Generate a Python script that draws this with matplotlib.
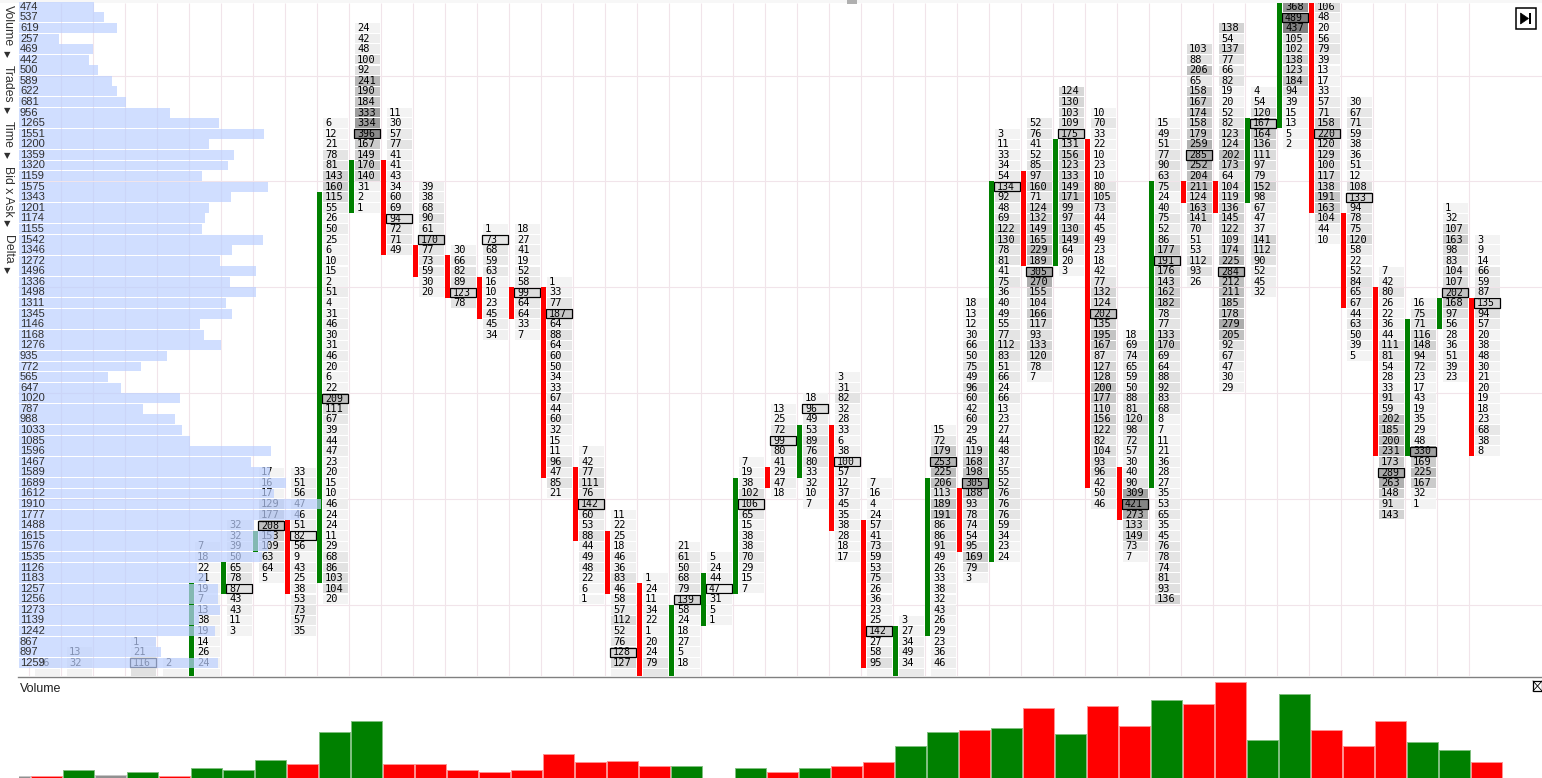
# %%
# Footprint chart with a volume profile on the left and a volume pane below
import matplotlib
matplotlib.use("Agg")
import matplotlib.pyplot as plt
from matplotlib.patches import Polygon, Rectangle

# %%
# Volume profile, one number per price level from the top down
profile = [474, 537, 619, 257, 469, 442, 500, 589, 622, 681, 956, 1265, 1551,
           1200, 1359, 1320, 1159, 1575, 1343, 1201, 1174, 1155, 1542, 1346,
           1272, 1496, 1336, 1498, 1311, 1345, 1146, 1168, 1276, 935, 772, 565,
           647, 1020, 787, 988, 1033, 1085, 1596, 1467, 1589, 1689, 1612, 1910,
           1777, 1488, 1615, 1576, 1535, 1126, 1183, 1257, 1256, 1273, 1139,
           1242, 867, 897, 1259]

# Footprint columns: bar number, first price level, values, level of the
# boxed high volume cell and the first/last level of the candle body
col_bar = [0, 1, 3, 4, 5, 6, 7, 8, 9, 10, 11, 12, 13, 14, 15, 16, 17, 18, 19,
           20, 21, 22, 23, 24, 25, 26, 27, 28, 29, 30, 31, 32, 33, 34, 35, 36,
           37, 38, 39, 40, 41, 42, 43, 44, 45]
col_first = [62, 61, 60, 62, 51, 49, 44, 44, 11, 2, 10, 17, 23, 21, 21, 26, 42,
             48, 54, 51, 52, 43, 38, 37, 35, 45, 58, 40, 28, 12, 11, 8, 10, 31,
             11, 4, 2, 8, 0, 0, 9, 25, 28, 19, 22]
col_poc = [None, None, 62, None, None, 55, 49, 50, 37, 12, 20, 22, 27, 22, 27,
           29, 47, 61, None, 56, 55, 47, 41, 38, 43, 59, None, 43, 45, 17, 25,
           12, 29, 47, 24, 14, 25, 11, 1, 12, 18, 44, 42, 27, 28]
col_body = [None, None, None, None, (55, 63), (53, 55), (50, 51), (49, 55),
            (18, 54), (15, 19), (15, 23), (23, 25), (24, 27), (26, 29), (27, 29),
            (27, 44), (44, 50), (50, 55), (55, 63), (57, 63), (54, 58), (45, 55),
            (44, 45), (40, 44), (40, 49), (49, 62), (59, 63), (45, 59), (46, 51),
            (17, 52), (16, 24), (13, 24), (13, 45), (44, 48), (17, 45), (17, 18),
            (17, 19), (11, 18), (0, 11), (0, 19), (20, 28), (27, 42), (30, 42),
            (28, 30), (28, 42)]
col_values = [
    [26],
    [13, 32],
    [1, 21, 116],
    [2],
    [7, 18, 22, 21, 19, 7, 13, 38, 19, 14, 26, 24],
    [32, 32, 39, 50, 65, 78, 87, 43, 43, 11, 3],
    [17, 16, 17, 129, 177, 208, 153, 109, 63, 64, 5],
    [33, 51, 56, 47, 46, 51, 82, 56, 9, 43, 25, 38, 53, 73, 57, 35],
    [6, 12, 21, 78, 81, 143, 160, 115, 55, 26, 50, 25, 6, 10, 15, 2, 51, 4, 31,
     46, 30, 31, 46, 20, 6, 22, 209, 111, 67, 39, 44, 47, 23, 20, 15, 10, 46,
     24, 24, 11, 29, 68, 86, 103, 104, 20],
    [24, 42, 48, 100, 92, 241, 190, 184, 333, 334, 396, 167, 149, 170, 140, 31,
     2, 1],
    [11, 30, 57, 77, 41, 41, 43, 34, 60, 69, 94, 72, 71, 49],
    [39, 38, 68, 90, 61, 170, 77, 73, 59, 30, 20],
    [30, 66, 82, 89, 123, 78],
    [1, 73, 68, 59, 63, 16, 10, 23, 45, 45, 34],
    [18, 27, 41, 19, 52, 58, 99, 64, 64, 33, 7],
    [1, 33, 77, 187, 64, 88, 64, 60, 50, 34, 33, 67, 44, 60, 32, 15, 11, 96, 47,
     85, 21],
    [7, 42, 77, 111, 76, 142, 60, 53, 88, 44, 49, 48, 22, 6, 1],
    [11, 22, 25, 18, 46, 36, 83, 46, 58, 57, 112, 52, 76, 128, 127],
    [1, 24, 11, 34, 22, 1, 20, 24, 79],
    [21, 61, 50, 68, 79, 139, 58, 24, 18, 27, 5, 18],
    [5, 24, 44, 47, 31, 5, 1],
    [7, 19, 38, 102, 106, 65, 15, 38, 38, 70, 29, 15, 7],
    [13, 25, 72, 99, 80, 41, 29, 47, 18],
    [18, 96, 49, 53, 89, 76, 80, 33, 32, 10, 7],
    [3, 31, 82, 32, 28, 33, 6, 38, 100, 57, 12, 37, 45, 35, 38, 28, 18, 17],
    [7, 16, 4, 24, 57, 41, 73, 59, 53, 75, 26, 36, 23, 25, 142, 27, 58, 95],
    [3, 27, 34, 49, 34],
    [15, 72, 179, 253, 225, 206, 113, 189, 191, 86, 86, 91, 49, 26, 33, 38, 32,
     43, 26, 29, 23, 36, 46],
    [18, 13, 12, 30, 66, 50, 75, 49, 96, 60, 42, 60, 29, 45, 119, 168, 198, 305,
     188, 93, 78, 74, 54, 95, 169, 79, 3],
    [3, 11, 33, 34, 54, 134, 92, 48, 69, 122, 130, 78, 81, 41, 75, 36, 40, 49,
     55, 77, 112, 83, 51, 66, 24, 66, 13, 23, 27, 44, 48, 37, 55, 52, 76, 76,
     76, 59, 34, 23, 24],
    [52, 76, 41, 52, 85, 97, 160, 71, 124, 132, 149, 165, 229, 189, 305, 270,
     155, 104, 166, 117, 93, 133, 120, 78, 7],
    [124, 130, 103, 109, 175, 131, 156, 123, 133, 149, 171, 99, 97, 130, 149,
     64, 20, 3],
    [10, 70, 33, 22, 10, 23, 10, 80, 105, 73, 44, 45, 49, 23, 18, 42, 77, 132,
     124, 202, 135, 195, 167, 87, 127, 128, 200, 177, 110, 156, 122, 82, 104,
     93, 96, 42, 50, 46],
    [18, 69, 74, 65, 59, 50, 88, 81, 120, 98, 72, 57, 30, 40, 90, 309, 421, 273,
     133, 149, 73, 7],
    [15, 49, 51, 77, 90, 63, 75, 24, 40, 75, 52, 86, 177, 191, 176, 143, 162,
     182, 78, 77, 133, 170, 69, 64, 88, 92, 83, 68, 8, 7, 11, 21, 36, 28, 27,
     35, 53, 65, 35, 45, 76, 78, 74, 81, 93, 136],
    [103, 88, 206, 65, 158, 167, 174, 158, 179, 259, 285, 252, 204, 211, 124,
     163, 141, 70, 51, 53, 112, 93, 26],
    [138, 54, 137, 77, 66, 82, 19, 20, 52, 82, 123, 124, 202, 173, 64, 104, 119,
     136, 145, 122, 109, 174, 225, 284, 212, 211, 185, 178, 279, 205, 92, 67,
     47, 30, 29],
    [4, 54, 120, 167, 164, 136, 111, 97, 79, 152, 98, 67, 47, 37, 141, 112, 90,
     52, 45, 32],
    [368, 489, 437, 105, 102, 138, 123, 184, 94, 39, 15, 13, 5, 2],
    [106, 48, 20, 56, 79, 39, 13, 17, 33, 57, 71, 158, 220, 120, 129, 100, 117,
     138, 191, 163, 104, 44, 10],
    [30, 67, 71, 59, 38, 36, 51, 12, 108, 133, 94, 78, 75, 120, 58, 22, 52, 84,
     65, 67, 44, 63, 50, 39, 5],
    [7, 42, 80, 26, 22, 36, 44, 111, 81, 54, 28, 33, 91, 59, 202, 185, 200, 231,
     173, 289, 263, 148, 91, 143],
    [16, 75, 71, 116, 148, 94, 72, 23, 17, 43, 19, 35, 29, 48, 330, 169, 225,
     167, 32, 1],
    [1, 32, 107, 163, 98, 83, 104, 107, 202, 168, 97, 56, 28, 36, 51, 39, 23],
    [3, 9, 14, 66, 59, 87, 135, 94, 57, 20, 38, 48, 30, 21, 20, 19, 18, 23, 68,
     38, 8],
]

# Cells cut off by the bottom edge, only their shade can be seen
cut_bars = [0, 1, 3, 4, 5, 18, 19, 20, 26, 27, 28]
cut_values = [30, 30, 90, 30, 30, 20, 70, 20, 20, 60, 20]

# Volume pane, bar number -1 is only partly on screen
vol_bars = list(range(-1, 46))
vol_values = [62, 93, 326, 108, 279, 93, 465, 326, 837, 651, 2139, 2650, 651,
              605, 326, 279, 326, 1070, 698, 790, 558, 512, 0, 419, 279, 419,
              512, 744, 1442, 2093, 2232, 2325, 3209, 2046, 3348, 2372, 3627,
              3395, 4464, 1767, 3860, 2186, 1442, 2650, 1674, 1302, 744]
vol_side = ["n", "d", "u", "n", "u", "d", "u", "u", "u", "d", "u", "u", "d",
            "d", "d", "d", "d", "d", "d", "d", "d", "u", "u", "u", "d", "u",
            "d", "d", "u", "u", "d", "u", "d", "u", "d", "d", "u", "d", "d",
            "u", "u", "d", "d", "d", "u", "u", "d"]

side_labels = ["Volume", "Trades", "Time", "Bid x Ask", "Delta"]

# %%
# Layout in screen pixels
W, H = 1542, 778
X0, PITCH = 29, 32       # first bar line, distance between bars
Y0, ROW = 6.8, 10.58     # centre of top level, level height
MAIN_BOTTOM = 676
GRID = "#f1e4ea"
GREEN, RED, GREY = "#008000", "#ff0000", "#909090"
MONO = "DejaVu Sans Mono"
SANS = "Liberation Sans"


def shade(v):
    g = max(125, min(243, 250 - 0.28 * v)) / 255
    return (g, g, g)


def dx(px):
    return px / PITCH


fig = plt.figure(figsize=(W / 100, H / 100), dpi=100, facecolor="white")

ax = fig.add_axes([0, (H - MAIN_BOTTOM) / H, 1, MAIN_BOTTOM / H])
ax.set_xlim(-X0 / PITCH, (W - X0) / PITCH)
ax.set_ylim((MAIN_BOTTOM - Y0) / ROW, -Y0 / ROW)
ax.axis("off")

# grid
ax.vlines(range(46), (3 - Y0) / ROW, (MAIN_BOTTOM - Y0) / ROW, color=GRID, lw=0.8, zorder=1)
ax.hlines([6.5 + 10 * i for i in range(6)], (18 - X0) / PITCH, (W - X0) / PITCH,
          color=GRID, lw=0.8, zorder=1)

# %%
# Footprint cells
for k, first, vals, poc, body in zip(col_bar, col_first, col_values, col_poc, col_body):
    levels = [first + i for i in range(len(vals))]
    ax.barh(levels, dx(25.3), left=k + dx(5.7), height=0.9,
            color=[shade(v) for v in vals], lw=0, zorder=2)
    for lev, v in zip(levels, vals):
        if lev == poc:
            ax.barh(lev, dx(26), left=k + dx(5.2), height=0.87, color=shade(v),
                    edgecolor="black", lw=0.9, zorder=3)
            ax.text(k + dx(8), lev + 0.03, str(v), family=MONO, fontsize=7.1,
                    va="center", ha="left", color="black", zorder=4)
        else:
            ax.text(k + dx(8), lev, str(v), family=MONO, fontsize=7.5,
                    va="center", ha="left", color="black", zorder=4)
    if body is not None:
        up = vol_side[vol_bars.index(k)] == "u"
        ax.bar(k + dx(2.6), body[1] - body[0] + 1, width=dx(4.4), bottom=body[0] - 0.5,
               color=GREEN if up else RED, lw=0, zorder=3)

ax.barh([63] * len(cut_bars), dx(25.3), left=[k + dx(5.7) for k in cut_bars], height=0.9,
        color=[shade(v) for v in cut_values], lw=0, zorder=2)

# top strip of the window and its little handle
ax.add_patch(Rectangle((-X0 / PITCH, -Y0 / ROW), W / PITCH, 3 / ROW, color="#f7f7f7", lw=0, zorder=6))
ax.add_patch(Rectangle((dx(847 - X0), -Y0 / ROW), dx(10), 4 / ROW, color="#b0b0b0", lw=0, zorder=7))

# %%
# Volume profile goes in its own transparent axes on top of the footprint
PROFILE_X0 = 18.5
PROFILE_SCALE = 0.1585  # pixels per contract
pax = fig.add_axes(ax.get_position(), zorder=5)
pax.patch.set_alpha(0)
pax.set_xlim(-PROFILE_X0 / PROFILE_SCALE, (W - PROFILE_X0) / PROFILE_SCALE)
pax.set_ylim(ax.get_ylim())
pax.axis("off")
pax.barh(range(len(profile)), profile, height=0.94, color=(188 / 255, 208 / 255, 1.0),
         alpha=0.7, lw=0)
for i, v in enumerate(profile):
    pax.text(1.5 / PROFILE_SCALE, i, str(v), family=SANS, fontsize=8, va="center",
             ha="left", color="#303030")

# %%
# Volume pane
vax = fig.add_axes([0, 0.5 / H, 1, (H - MAIN_BOTTOM - 1.5) / H])
vax.set_xlim(ax.get_xlim())
vax.set_ylim(0, (H - MAIN_BOTTOM - 1.5) * 46.5)
vax.axis("off")
side_face = {"u": GREEN, "d": RED, "n": GREY}
side_edge = {"u": "#80c080", "d": "#ff9090", "n": "#c8c8c8"}
for k, v, s in zip(vol_bars, vol_values, vol_side):
    if v == 0:
        continue
    vax.bar(k + dx(17), v, width=dx(31), color=side_face[s], edgecolor=side_edge[s],
            lw=0.7, clip_on=True)
# hide what hangs left of the pane
vax.add_patch(Rectangle((-X0 / PITCH, 0), dx(19), 5000, color="white", lw=0, zorder=5))

fig.add_artist(plt.Line2D([18 / W, 1], [1 - 677 / H] * 2, color="#808080", lw=1))
fig.text(20 / W, 1 - 689 / H, "Volume", family=SANS, fontsize=9, va="center", color="#202020")

# close box of the pane
fig.add_artist(Rectangle((1532.5 / W, 1 - 691 / H), 9.5 / W, 10.5 / H, fill=False, ec="black", lw=0.9,
                         transform=fig.transFigure))
fig.add_artist(plt.Line2D([1533 / W, 1542 / W], [1 - 681 / H, 1 - 691 / H], color="black", lw=0.6))
fig.add_artist(plt.Line2D([1533 / W, 1542 / W], [1 - 691 / H, 1 - 681 / H], color="black", lw=0.6))

# %%
# Rotated labels on the left
side_pos = [25.5, 84, 134.5, 191.5, 249]
arrow_pos = [55, 111, 156, 224, 271]
for label, y, ya in zip(side_labels, side_pos, arrow_pos):
    fig.text(7.5 / W, 1 - y / H, label, family=SANS, fontsize=8.8, rotation=270,
             va="center", ha="center", color="#303030")
    fig.text(7.5 / W, 1 - ya / H, "\u25bc", family="DejaVu Sans", fontsize=6,
             va="center", ha="center", color="#303030")

# jump to latest button
fig.add_artist(Rectangle((1515.5 / W, 1 - 28.5 / H), 20 / W, 20 / H, fc="white", ec="black", lw=1.1,
                         transform=fig.transFigure, zorder=8))
fig.add_artist(Polygon([[1520.5 / W, 1 - 13 / H], [1528.5 / W, 1 - 18.5 / H], [1520.5 / W, 1 - 24 / H]],
                       fc="black", ec="black", lw=0.5, transform=fig.transFigure, zorder=9))
fig.add_artist(Rectangle((1528.8 / W, 1 - 24 / H), 2 / W, 11 / H, fc="black", ec="none",
                         transform=fig.transFigure, zorder=9))

fig.savefig("out.png", dpi=100)
